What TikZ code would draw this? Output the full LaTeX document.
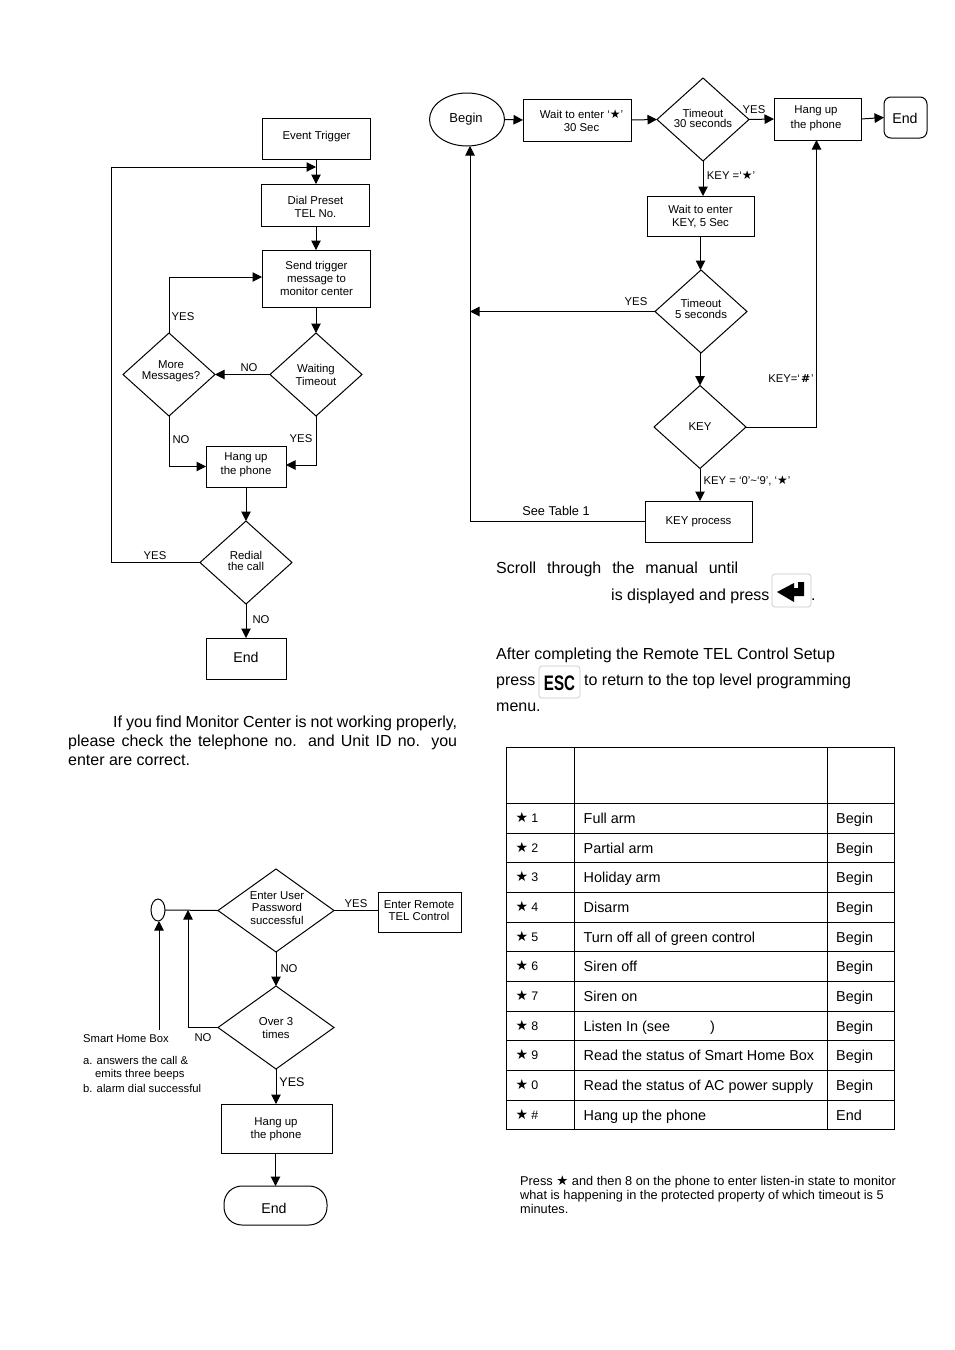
\documentclass[tikz,border=0pt]{standalone}
\usepackage{fontspec}
\setmainfont{Liberation Sans}
\newfontfamily\djv{DejaVu Sans}
\usetikzlibrary{arrows.meta,shapes.geometric}
\newcommand{\fs}[1]{\fontsize{#1}{#1}\selectfont}
\tikzset{
  wh/.style 2 args={minimum width=#1pt,minimum height=#2pt},
  base/.style={inner sep=0pt,outer sep=0pt,align=center,font=\fontsize{11.4}{13}\selectfont},
  boxn/.style={base,draw=black,line width=1pt,rectangle},
  dia/.style={base,draw=black,line width=1pt,diamond,wh={92}{83}},
  oval/.style={base,draw=black,line width=1pt,ellipse},
  tx/.style={inner sep=0pt,outer sep=0pt,align=center,font=\fontsize{11.4}{#1}\selectfont},
  lab/.style={inner sep=0pt,font=\fontsize{11.3}{13}\selectfont,anchor=base,align=center},
  para/.style={inner sep=0pt,anchor=base west,font=\fontsize{16}{18}\selectfont},
  cell/.style={inner sep=0pt,anchor=base west,font=\fontsize{14.4}{16}\selectfont},
  small/.style={inner sep=0pt,anchor=base west,font=\fontsize{11.25}{13}\selectfont},
  note/.style={inner sep=0pt,anchor=base west,font=\fontsize{12.75}{14}\selectfont},
  conn/.style={line width=1pt,draw=black},
  arr/.style={conn,-{Triangle[length=9.5pt,width=9.5pt]}},
  keycap/.style={draw=black!22,line width=.7pt,rounded corners=3pt,fill=white,rectangle,inner sep=0pt},
  rule/.style={draw=black,line width=1pt}
}
\begin{document}
\begin{tikzpicture}[x=1pt,y=-1pt]
\useasboundingbox (0,0) rectangle (954,1350);
% ---------- left flowchart
\node[boxn,wh={108}{41}] (evt) at (316,138.5) {};
\node[tx=13] (evtT) at (316.5,136.5) {Event Trigger};
\node[boxn,wh={108}{42}] (dial) at (315,205) {};
\node[tx=13] (dialT) at (315.5,207) {Dial Preset\\TEL No.};
\node[boxn,wh={108}{57}] (send) at (316,278.5) {};
\node[tx=13] (sendT) at (316.5,278.5) {Send trigger\\message to\\monitor center};
\node[dia] (wait) at (316,374.5) {};
\node[tx=13] (waitT) at (316,375) {Waiting\\Timeout};
\node[dia] (more) at (169,374.5) {};
\node[tx=11] (moreT) at (171,371) {More\\Messages?};
\node[boxn,wh={80}{41}] (hang) at (246,466.5) {};
\node[tx=14] (hangT) at (246,464.5) {Hang up\\the phone};
\node[dia] (redial) at (246,562.5) {};
\node[tx=11] (redialT) at (246,561) {Redial\\the call};
\node[boxn,wh={80}{41}] (endA) at (246,658.5) {};
\node[tx=13,font=\fs{14.2}] (endAT) at (246,657.5) {End};
\coordinate (fbT) at (111,167);
\coordinate (fbE) at (316,167);
\draw[conn] (redial.west) -- (fbT |- redial.west) -- (fbT);
\draw[arr] (fbT) -- (fbE);
\draw[arr] (evt.south) -- (evt.south |- dial.north);
\draw[arr] (dial.south -| send.south) -- (send.north);
\draw[arr] (send.south) -- (wait.north);
\draw[arr] (wait.west) -- (more.east);
\draw[arr] (more.north) |- ([yshift=1.5pt]send.west);
\draw[arr] (more.south) |- (hang.west);
\draw[arr] (wait.south) |- ([yshift=1.5pt]hang.east);
\draw[arr] (hang.south) -- (redial.north);
\draw[arr] (redial.south) -- (endA.north);
\node[lab] (l1) at (249,371) {NO};
\node[lab] (l2) at (183,320) {YES};
\node[lab] (l3) at (181,443) {NO};
\node[lab] (l4) at (301,442) {YES};
\node[lab] (l5) at (155,559) {YES};
\node[lab] (l6) at (261,623) {NO};
% ---------- left paragraph
\node[para] (p1) at (113,727) {\makebox[344pt][s]{If you find Monitor Center is not working properly,}};
\node[para] (p2) at (68,746) {\makebox[389pt][s]{please check the telephone no. and Unit ID no. you}};
\node[para] (p3) at (68,765) {enter are correct.};
% ---------- right flowchart
\node[oval,wh={75}{53}] (begin) at (467,119.5) {};
\node[tx=13,font=\fs{13}] (beginT) at (466,119.5) {Begin};
\node[boxn,wh={108}{42}] (w30) at (577,120) {};
\node[tx=13] (w30T) at (581.5,121) {Wait to enter `{\djv\fs{12}★}'\\30 Sec};
\node[dia] (t30) at (703,119.5) {};
\node[tx=10.5] (t30T) at (703,118.5) {Timeout\\30 seconds};
\node[boxn,wh={87}{42}] (hup) at (817.5,119) {};
\node[tx=15] (hupT) at (816,118) {Hang up\\the phone};
\node[boxn,wh={43}{41},rounded corners=7pt] (endB) at (905.5,117.5) {};
\node[tx=13,font=\fs{14.2}] (endBT) at (905,118) {End};
\node[boxn,wh={107}{40}] (w5) at (700.5,216) {};
\node[tx=13] (w5T) at (700.5,216.5) {Wait to enter\\KEY, 5 Sec};
\node[dia] (t5) at (701,311.5) {};
\node[tx=11] (t5T) at (701,309) {Timeout\\5 seconds};
\node[dia] (key) at (700,427) {KEY};
\node[boxn,wh={107}{41}] (proc) at (698.5,521.5) {KEY process};
\coordinate (up) at (470,521.5);
\draw[arr] (begin.east) -- (w30.west);
\draw[arr] (w30.east) -- (t30.west);
\draw[arr] (t30.east) -- (hup.west);
\draw[arr] (hup.east) -- (endB.west);
\draw[arr] (t30.south) -- (t30.south |- w5.north);
\draw[arr] (w5.south) -- (w5.south |- t5.north);
\draw[arr] (t5.west) -- (up |- t5.west);
\draw[arr] (t5.south -| key.south) -- (key.north);
\draw[arr] (key.south) -- (key.south |- proc.north);
\draw[arr] (key.east) -| ([xshift=-1pt]hup.south);
\draw[arr] (proc.west) -- (up) -- (begin.south -| up);
\node[lab] (r1) at (754,113) {YES};
\node[lab] (r2) at (731,179) {KEY =`{\djv\fs{12}★}'};
\node[lab] (r3) at (636,305) {YES};
\node[lab] (r4) at (791,382) {KEY=`\hspace{1pt}{\djv\fs{11}\bfseries\#}\hspace{1pt}'};
\node[lab] (r5) at (747,484) {KEY = `0'\textasciitilde`9', `{\djv\fs{12}★}'};
\node[lab,font=\fs{12.75}] (r6) at (556,515) {See Table 1};
% ---------- right text
\node[para] (s1) at (496,573) {\makebox[242pt][s]{Scroll through the manual until}};
\node[para] (s2) at (611,600) {is displayed and press};
\node[keycap,wh={39}{33}] (kEnter) at (791.5,590.5) {};
\fill[black] (777,592)--(794,583)--(794,588)--(798,588)--(798,582)--(804,582)--(804,596)--(794,596)--(794,602)--cycle;
\node[para] (s3) at (811,600) {.};
\node[para] (s4) at (496,659) {After completing the Remote TEL Control Setup};
\node[para] (s5) at (496,685) {press};
\node[keycap,wh={41}{32}] (kEsc) at (559.5,682) {};
\node[inner sep=0pt,xscale=.72,font=\bfseries\fs{21}] (esc) at (559.5,683) {ESC};
\node[para] (s6) at (584,685) {to return to the top level programming};
\node[para] (s7) at (496,711) {menu.};
% ---------- lower flowchart
\node[oval,wh={14}{22}] (ring) at (158,910) {};
\node[dia,wh={116}{83}] (pw) at (276,910.5) {};
\node[tx=12.5] (pwT) at (277,908) {Enter User\\Password\\successful};
\node[boxn,wh={83}{40}] (rem) at (419.5,912) {};
\node[tx=12] (remT) at (419,910.5) {Enter Remote\\TEL Control};
\node[dia,wh={116}{83}] (over) at (276,1027.5) {};
\node[tx=13] (overT) at (276,1028) {Over 3\\times};
\node[boxn,wh={111}{49}] (hang2) at (276.5,1128.5) {};
\node[tx=13] (hang2T) at (276,1129) {Hang up\\the phone};
\node[boxn,wh={103}{39},rounded corners=18pt] (endC) at (275.5,1205.5) {};
\node[tx=13,font=\fs{14.2}] (endCT) at (274,1208) {End};
\coordinate (sh) at (159,1030);
\coordinate (loop) at (188,1027.5);
\coordinate (loopT) at (188,910);
\draw[conn] (ring.east) -- (pw.west);
\draw[conn] (pw.east) -- (rem.west |- pw.east);
\draw[arr] (pw.south) -- (over.north);
\draw[conn] (over.west) -- (loop);
\draw[arr] (loop) -- (loopT);
\draw[arr] (over.south) -- (hang2.north -| over.south);
\draw[arr] (hang2.south -| endC.north) -- (endC.north);
\draw[arr] (sh) -- (ring.south -| sh);
\node[lab] (d1) at (356,907) {YES};
\node[lab] (d2) at (289,972) {NO};
\node[lab] (d3) at (203,1041) {NO};
\node[lab,font=\fs{12.5}] (d4) at (292,1086) {YES};
\node[small] (d5) at (83,1042) {Smart Home Box};
\node[small] (d6) at (83,1064) {a. answers the call \&};
\node[small] (d7) at (95,1077) {emits three beeps};
\node[small] (d8) at (83,1092) {b. alarm dial successful};
% ---------- table
\draw[rule] (506.5,747.5) rectangle (894.5,1129.5);
\foreach \yy in {803.5,833,862,892,922,951,981,1011,1040,1070,1100}
  \draw[rule] (506.5,\yy) -- (894.5,\yy);
\foreach \xx in {574.5,827.5}
  \draw[rule] (\xx,747.5) -- (\xx,1129.5);
\foreach \i/\yy/\k/\t/\e in {
  a/818/1/Full arm/Begin,
  b/848/2/Partial arm/Begin,
  c/877/3/Holiday arm/Begin,
  d/907/4/Disarm/Begin,
  e/937/5/Turn off all of green control/Begin,
  f/966/6/Siren off/Begin,
  g/996/7/Siren on/Begin,
  h/1026/8/Listen In (see \hspace{36pt})/Begin,
  i/1055/9/Read the status of Smart Home Box/Begin,
  j/1085/0/Read the status of AC power supply/Begin,
  k/1115/\#/Hang up the phone/End}{
  \node[cell,font=\fs{12.4}] (cs\i) at (515.5,\yy+4.5) {{\djv\fs{14}★}\hspace{3pt}\k};
  \node[cell] (cd\i) at (583.5,\yy+5) {\t};
  \node[cell] (ce\i) at (836,\yy+5) {\e};
}
% ---------- note
\node[note] (n1) at (520,1185.5) {Press {\djv\fs{13.5}★} and then 8 on the phone to enter listen-in state to monitor};
\node[note] (n2) at (520,1199.5) {what is happening in the protected property of which timeout is 5};
\node[note] (n3) at (520,1213.5) {minutes.};
\end{tikzpicture}
\end{document}
